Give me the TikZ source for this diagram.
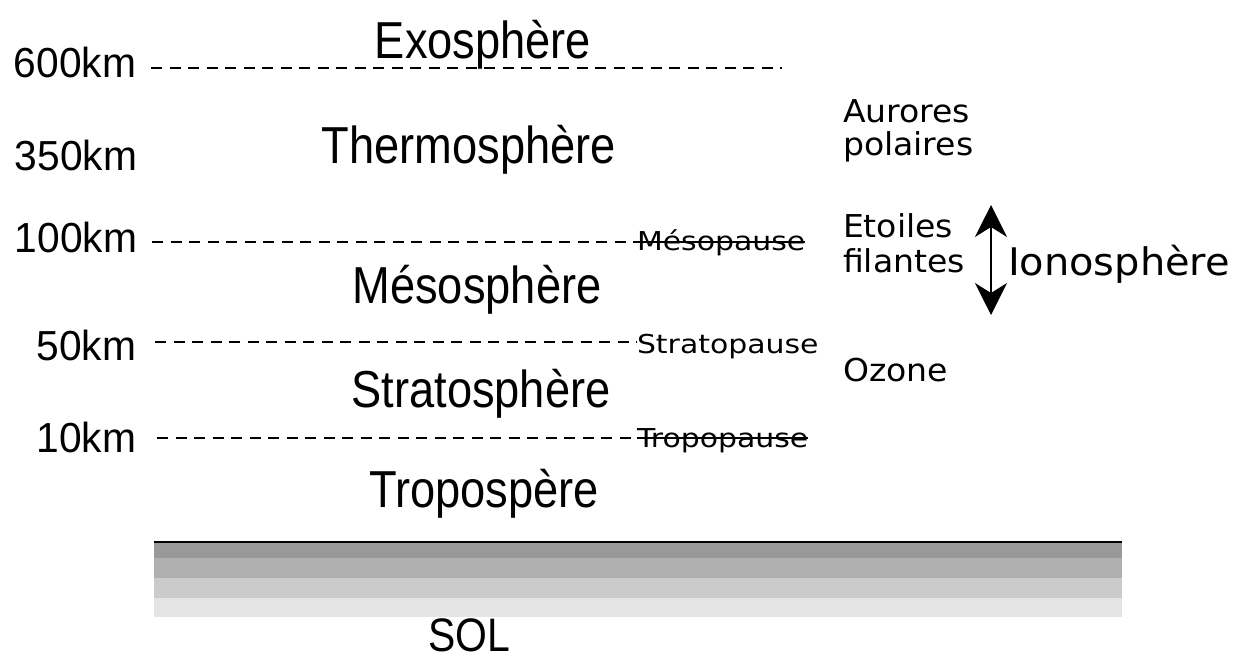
\documentclass[tikz,border=0pt]{standalone}
\usepackage{fontspec}
\setmainfont{Liberation Sans}
\newfontfamily\vf{DejaVu Sans}
\usetikzlibrary{arrows.meta}
\newcommand\bigtxt[1]{\fontsize{52}{60}\selectfont\scalebox{0.87}[1]{#1}}
\newcommand\alttxt[1]{\fontsize{42}{50}\selectfont\scalebox{0.97}[1]{#1}}
\newcommand\smltxt[1]{\vf\fontsize{31.5}{36}\selectfont\scalebox{1.05}[1]{#1}}
\newcommand\pausetxt[1]{\vf\fontsize{26}{30}\selectfont\scalebox{1.15}[1]{#1}}
\tikzset{
  txt/.style={inner sep=0pt, outer sep=0pt},
  dl/.style={dash pattern=on 11pt off 7.5pt, line width=1.6pt},
  strike/.style={line width=1.2pt},
}
\begin{document}
\begin{tikzpicture}[x=1pt,y=-1pt]
\useasboundingbox (0,0) rectangle (1235,653);
% altitude labels
\node[txt,anchor=base east] (a600) at (136,77) {\alttxt{600km}};
\node[txt,anchor=base east] (a350) at (137,170) {\alttxt{350km}};
\node[txt,anchor=base east] (a100) at (137,252) {\alttxt{100km}};
\node[txt,anchor=base east] (a50) at (136,360) {\alttxt{50km}};
\node[txt,anchor=base east] (a10) at (136,452) {\alttxt{10km}};
% layer names
\node[txt,anchor=base] (exo) at (483,58) {\bigtxt{Exosphère}};
\node[txt,anchor=base] (thermo) at (469,163) {\bigtxt{Thermosphère}};
\node[txt,anchor=base] (meso) at (477,303) {\bigtxt{Mésosphère}};
\node[txt,anchor=base] (strato) at (481,407) {\bigtxt{Stratosphère}};
\node[txt,anchor=base] (tropo) at (484,507) {\bigtxt{Tropospère}};
\node[txt,anchor=base] (sol) at (469,651.5) {\fontsize{47}{56}\selectfont\scalebox{0.87}[1]{SOL}};
% pause labels
\node[txt,anchor=base west] (mesop) at (637,250) {\pausetxt{Mésopause}};
\node[txt,anchor=base west] (stratop) at (637,353) {\pausetxt{Stratopause}};
\node[txt,anchor=base west] (tropop) at (637,447) {\pausetxt{Tropopause}};
% right side labels
\node[txt,anchor=base west] (aur1) at (843,122) {\smltxt{Aurores}};
\node[txt,anchor=base west] (aur2) at (843,155) {\smltxt{polaires}};
\node[txt,anchor=base west] (eto1) at (843,237) {\smltxt{Etoiles}};
\node[txt,anchor=base west] (eto2) at (843,272) {\smltxt{filantes}};
\node[txt,anchor=base west] (ozone) at (843,381) {\smltxt{Ozone}};
\node[txt,anchor=base west] (iono) at (1008,275) {\vf\fontsize{38}{46}\selectfont\scalebox{1.05}[1]{Ionosphère}};
% arrow
\coordinate (arT) at (991,205);
\coordinate (arB) at (991,315);
\draw[line width=1.5pt, {Stealth[length=32pt,width=32pt,inset=10pt]}-{Stealth[length=32pt,width=32pt,inset=10pt]}] (arT) -- (arB);
% dashed lines
\coordinate (l600s) at (151,68);
\coordinate (l600e) at (782,68);
\coordinate (l100s) at (152,242);
\coordinate (l50s) at (155,342);
\coordinate (l10s) at (157,438);
\draw[dl] (l600s) -- (l600e);
\draw[dl] (l100s) -- (l100s -| mesop.west);
\draw[strike] (l100s -| mesop.west) -- (l100s -| mesop.east);
\draw[dl] (l50s) -- (l50s -| stratop.west);
\draw[dl] (l10s) -- (l10s -| tropop.west);
\draw[strike] (l10s -| tropop.west) -- (l10s -| tropop.east);
% ground
\fill[fill={rgb,255:red,153;green,153;blue,153}] (154,542) rectangle (1122,558);
\fill[fill={rgb,255:red,176;green,176;blue,176}] (154,558) rectangle (1122,578);
\fill[fill={rgb,255:red,203;green,203;blue,203}] (154,578) rectangle (1122,598);
\fill[fill={rgb,255:red,228;green,228;blue,228}] (154,598) rectangle (1122,617);
\coordinate (gl) at (154,542);
\coordinate (gr) at (1122,542);
\draw[line width=2pt] (gl) -- (gr);
\end{tikzpicture}
\end{document}
